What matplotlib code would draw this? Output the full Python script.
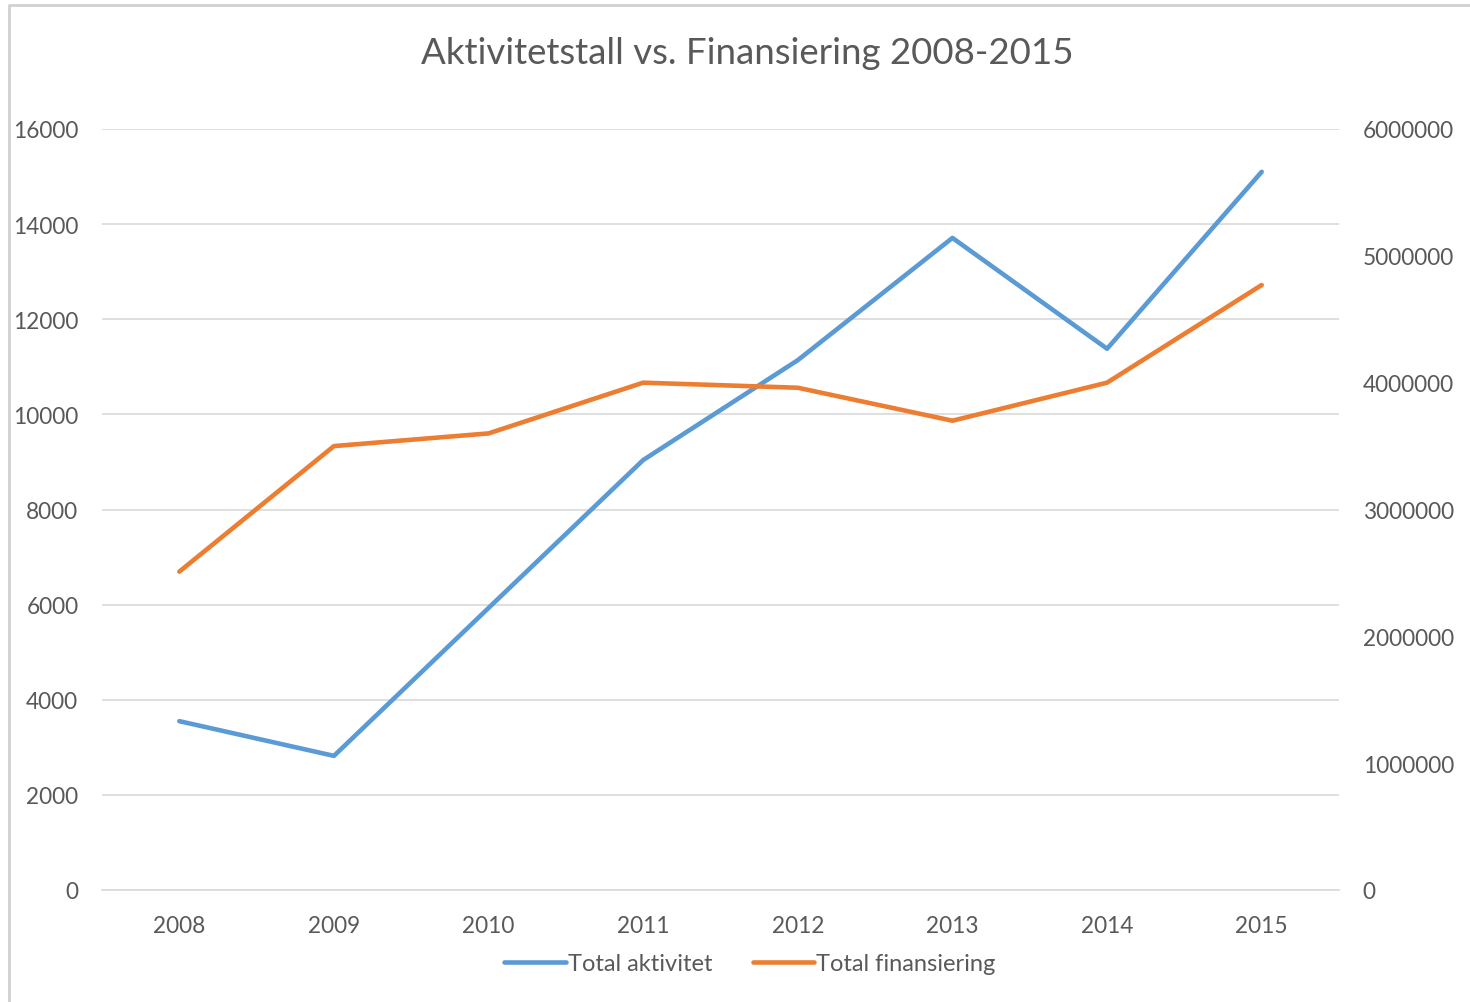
import matplotlib.pyplot as plt
from matplotlib.lines import Line2D

years = ["2008", "2009", "2010", "2011", "2012", "2013", "2014", "2015"]
total_aktivitet = [3550, 2820, 5930, 9040, 11140, 13710, 11380, 15100]
total_finansiering = [2510000, 3500000, 3600000, 4000000, 3960000, 3700000, 4000000, 4770000]
left_ticks = [0, 2000, 4000, 6000, 8000, 10000, 12000, 14000, 16000]
right_ticks = [0, 1000000, 2000000, 3000000, 4000000, 5000000, 6000000]

BLUE = "#5B9BD5"
ORANGE = "#ED7D31"
TEXT = "#595959"
GRID = "#D9D9D9"

plt.rcParams["font.family"] = ["Lato", "DejaVu Sans"]

fig = plt.figure(figsize=(14.7, 10.03), dpi=100)
# frame of the chart area: only top and left edges are visible
bx, by = 9 / 1470, 1 - 6 / 1003
fig.lines.append(Line2D([bx, bx, 1.0], [0.0, by, by], transform=fig.transFigure,
                        color="#D0D0D0", lw=2))

ax = fig.add_axes([102 / 1470, 112 / 1003, 1237 / 1470, 761 / 1003])
ax2 = ax.twinx()

x = list(range(len(years)))
l1, = ax.plot(x, total_aktivitet, color=BLUE, lw=3.3, solid_capstyle="round",
              solid_joinstyle="round", label="Total aktivitet", zorder=3)
l2, = ax2.plot(x, total_finansiering, color=ORANGE, lw=3.3, solid_capstyle="round",
               solid_joinstyle="round", label="Total finansiering")

ax.set_xlim(-0.5, len(years) - 0.5)
ax.set_ylim(0, 16000)
ax2.set_ylim(0, 6000000)
ax.set_xticks(x)
ax.set_xticklabels(years)
ax.set_yticks(left_ticks)
ax2.set_yticks(right_ticks)
ax2.set_yticklabels([str(v) for v in right_ticks])

ax.grid(axis="y", color=GRID, lw=1.2)
ax.set_axisbelow(True)
for a in (ax, ax2):
    for s in a.spines.values():
        s.set_visible(False)
    a.tick_params(length=0, labelsize=16.3, labelcolor=TEXT)
ax.spines["bottom"].set_visible(True)
ax.spines["bottom"].set_color(GRID)
ax.spines["bottom"].set_linewidth(1.2)
ax.tick_params(axis="x", pad=18)
ax.tick_params(axis="y", pad=17)
ax2.tick_params(axis="y", pad=17)

fig.text(747 / 1470, 1 - 54 / 1003, "Aktivitetstall vs. Finansiering 2008-2015",
         ha="center", va="center", fontsize=26.4, color=TEXT)

fig.legend(handles=[l1, l2], loc="center", bbox_to_anchor=(750 / 1470, 1 - 965 / 1003),
           ncol=2, frameon=False, fontsize=17, labelcolor=TEXT,
           handlelength=2.6, handletextpad=0.1, columnspacing=1.7)

fig.savefig("out.png", dpi=100)
